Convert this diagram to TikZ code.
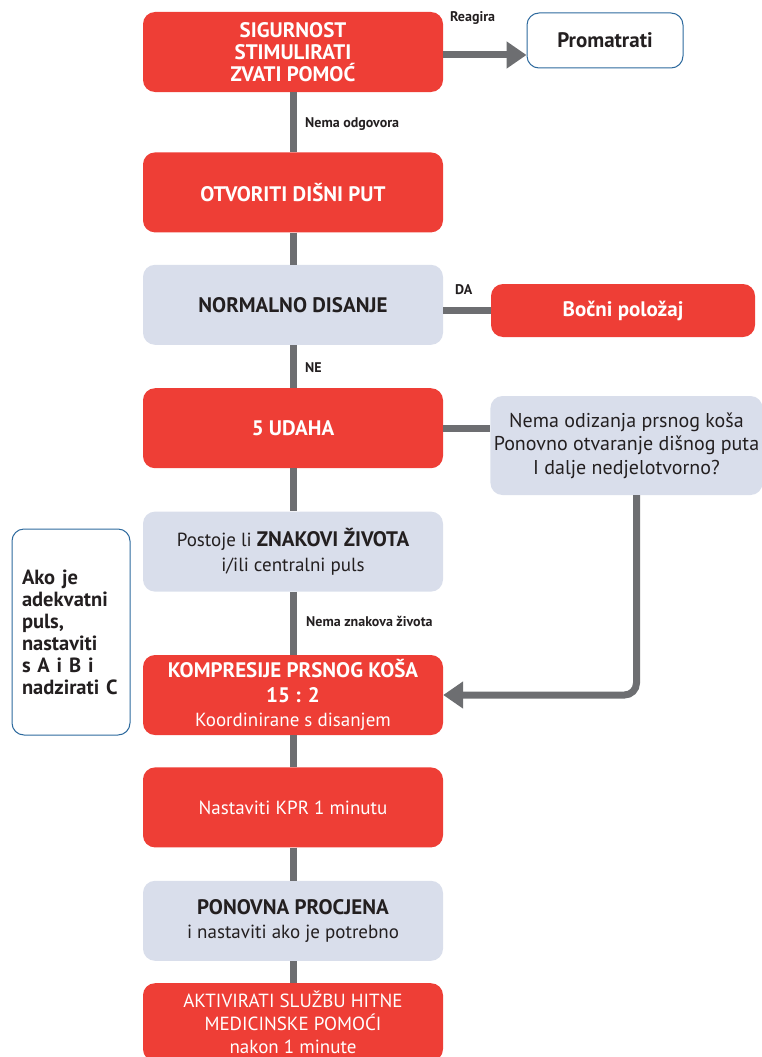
\documentclass[tikz,border=0pt]{standalone}
\usepackage{fontspec}
\setmainfont{PT Sans}
\usetikzlibrary{arrows.meta, positioning}

\definecolor{cprred}{HTML}{EE3E36}
\definecolor{cprgrey}{HTML}{D9DEEB}
\definecolor{cprline}{HTML}{6D6E71}
\definecolor{cprblue}{HTML}{2E6A9E}
\definecolor{cprtext}{HTML}{231F20}

\newcommand{\hb}[1]{{\bfseries\fontsize{21}{24}\selectfont #1}}

\begin{document}
\begin{tikzpicture}[
        x=1pt, y=-1pt,
        node distance=32pt,
        redbox/.style={rectangle, rounded corners=12pt, fill=cprred, text=white, minimum width=300pt, minimum height=80pt, align=center, font=\fontsize{19}{24.5}\selectfont},
        greybox/.style={redbox, fill=cprgrey, text=cprtext},
        bold/.style={font=\bfseries\fontsize{21}{22}\selectfont},
        outbox/.style={rectangle, rounded corners=12pt, draw=cprblue, line width=1pt, fill=white, text=cprtext, font=\bfseries\fontsize{21}{22}\selectfont},
        lbl/.style={anchor=west, inner sep=0pt, text=cprtext, font=\bfseries\fontsize{14}{15}\selectfont},
        line/.style={draw=cprline, line width=7pt},
        arrow/.style={line, -{Triangle[length=20pt, width=26pt]}}
    ]
        \useasboundingbox (0,0) rectangle (762,1057);

        % Main column
        \node[redbox, bold] (safety) at (293,52) {SIGURNOST\\STIMULIRATI\\ZVATI POMOĆ};
        \node[redbox, bold, below=60pt of safety] (airway) {OTVORITI DIŠNI PUT};
        \node[greybox, bold, below=32pt of airway] (breath) {NORMALNO DISANJE};
        \node[redbox, bold, below=43pt of breath] (breaths) {5 UDAHA};
        \node[greybox, below=43pt of breaths] (signs) {Postoje li \hb{ZNAKOVI ŽIVOTA}\\i/ili centralni puls};
        \node[redbox, below=63pt of signs] (compress) {\hb{KOMPRESIJE PRSNOG KOŠA}\\\hb{15 : 2}\\Koordinirane s disanjem};
        \node[redbox, below=32pt of compress] (cpr) {Nastaviti KPR 1 minutu};
        \node[greybox, below=33pt of cpr] (reassess) {\hb{PONOVNA PROCJENA}\\i nastaviti ako je potrebno};
        \node[redbox, below=22pt of reassess, minimum height=78pt, font=\fontsize{19}{23}\selectfont] (ems) {AKTIVIRATI SLUŽBU HITNE\\MEDICINSKE POMOĆI\\nakon 1 minute};

        % Side boxes
        \node[outbox, minimum width=156pt, minimum height=55pt] (observe) at (605,40.5) {Promatrati};
        \node[redbox, bold, minimum width=264pt, minimum height=53pt] (recovery) at (623,310.5) {Bočni položaj};
        \node[greybox, minimum width=271pt, minimum height=99pt, font=\fontsize{20}{23.5}\selectfont] (failed) at (626.5,445.5) {Nema odizanja prsnog koša\\Ponovno otvaranje dišnog puta\\I dalje nedjelotvorno?};
        \node[outbox, text width=98pt, inner sep=10pt, minimum height=206pt, align=left, font=\bfseries\fontsize{20.5}{22}\selectfont] (pulse) at (71,632) {Ako je\\adekvatni\\puls,\\nastaviti\\s A i B i\\nadzirati C};

        % Labels
        \node[lbl] (lreact) at (450,18) {Reagira};
        \node[lbl] (lnoresp) at (305,124) {Nema odgovora};
        \node[lbl] (lyes) at (455,290) {DA};
        \node[lbl] (lno) at (305,368) {NE};
        \node[lbl] (lnosigns) at (306,621) {Nema znakova života};

        % Edges
        \draw[line] (safety.south) -- (airway.north);
        \draw[line] (airway.south) -- (breath.north);
        \draw[line] (breath.south) -- (breaths.north);
        \draw[line] (breaths.south) -- (signs.north);
        \draw[line] (signs.south) -- (compress.north);
        \draw[line] (compress.south) -- (cpr.north);
        \draw[line] (cpr.south) -- (reassess.north);
        \draw[line] (reassess.south) -- (ems.north);

        \draw[arrow] ([yshift=-3pt]safety.east) -- ([yshift=-3pt]safety.east -| observe.west);
        \draw[line] (recovery.west -| breath.east) -- (recovery.west);
        \draw[line] (breaths.east) -- (breaths.east -| failed.west);
        \draw[arrow, rounded corners=12pt] ([xshift=10pt]failed.south) |- (compress.east);

    \end{tikzpicture}
\end{document}
